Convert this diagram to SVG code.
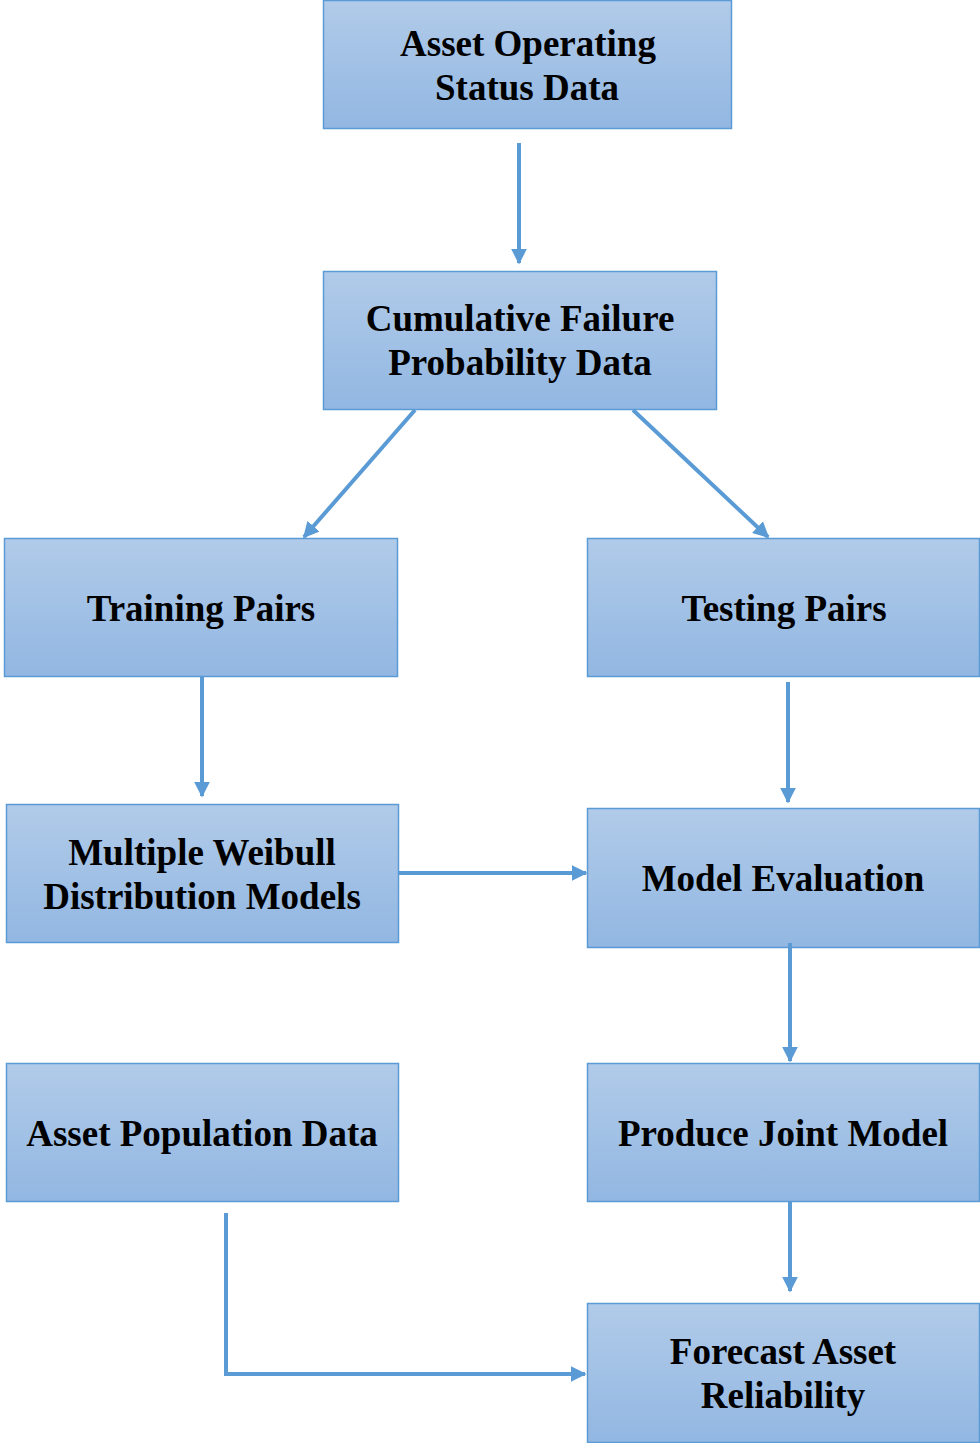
<svg xmlns="http://www.w3.org/2000/svg" width="980" height="1443" viewBox="0 0 980 1443">
<defs>
<linearGradient id="g" x1="0" y1="0" x2="0" y2="1">
<stop offset="0" stop-color="#b1cbe9"/>
<stop offset="1" stop-color="#92b7e2"/>
</linearGradient>
<marker id="ah" markerWidth="4" markerHeight="4" refX="3.6" refY="2" orient="auto" markerUnits="strokeWidth">
<path d="M0,0 L4,2 L0,4 z" fill="#5b9bd5"/>
</marker>
<style>
.box{fill:url(#g);stroke:#5b9bd5;stroke-width:1.5}
.t{font-family:"Liberation Serif","Times New Roman",serif;font-weight:bold;font-size:37px;fill:#000;text-anchor:middle}
.c{fill:none;stroke:#5b9bd5;stroke-width:4}
</style>
</defs>
<rect width="980" height="1443" fill="#fff"/>
<g id="n1"><rect class="box" x="323.5" y="0.5" width="408" height="128"/><text class="t" x="528" y="56">Asset Operating</text><text class="t" x="527" y="100">Status Data</text></g>
<g id="n2"><rect class="box" x="323.5" y="271.5" width="393" height="138"/><text class="t" x="520" y="331">Cumulative Failure</text><text class="t" x="520" y="375">Probability Data</text></g>
<g id="n3"><rect class="box" x="4.5" y="538.5" width="393" height="138"/><text class="t" x="201" y="621">Training Pairs</text></g>
<g id="n4"><rect class="box" x="587.5" y="538.5" width="392" height="138"/><text class="t" x="784" y="621">Testing Pairs</text></g>
<g id="n5"><rect class="box" x="6.5" y="804.5" width="392" height="138"/><text class="t" x="202" y="865">Multiple Weibull</text><text class="t" x="202" y="909">Distribution Models</text></g>
<g id="n6"><rect class="box" x="587.5" y="808.5" width="392" height="139"/><text class="t" x="783" y="891">Model Evaluation</text></g>
<g id="n7"><rect class="box" x="6.5" y="1063.5" width="392" height="138"/><text class="t" x="202" y="1146">Asset Population Data</text></g>
<g id="n8"><rect class="box" x="587.5" y="1063.5" width="392" height="138"/><text class="t" x="783" y="1146">Produce Joint Model</text></g>
<g id="n9"><rect class="box" x="587.5" y="1303.5" width="392" height="139"/><text class="t" x="783" y="1364">Forecast Asset</text><text class="t" x="783" y="1408">Reliability</text></g>
<g id="connectors">
<line class="c" x1="519" y1="143" x2="519" y2="263" marker-end="url(#ah)"/>
<line class="c" x1="415" y1="410" x2="304" y2="537" marker-end="url(#ah)"/>
<line class="c" x1="633" y1="410" x2="768" y2="537" marker-end="url(#ah)"/>
<line class="c" x1="202" y1="677" x2="202" y2="796" marker-end="url(#ah)"/>
<line class="c" x1="788" y1="682" x2="788" y2="802" marker-end="url(#ah)"/>
<line class="c" x1="398" y1="873" x2="586" y2="873" marker-end="url(#ah)"/>
<line class="c" x1="790" y1="943" x2="790" y2="1061" marker-end="url(#ah)"/>
<line class="c" x1="790" y1="1201" x2="790" y2="1291" marker-end="url(#ah)"/>
<polyline class="c" points="226,1213 226,1374 585,1374" marker-end="url(#ah)"/>
</g>
</svg>
